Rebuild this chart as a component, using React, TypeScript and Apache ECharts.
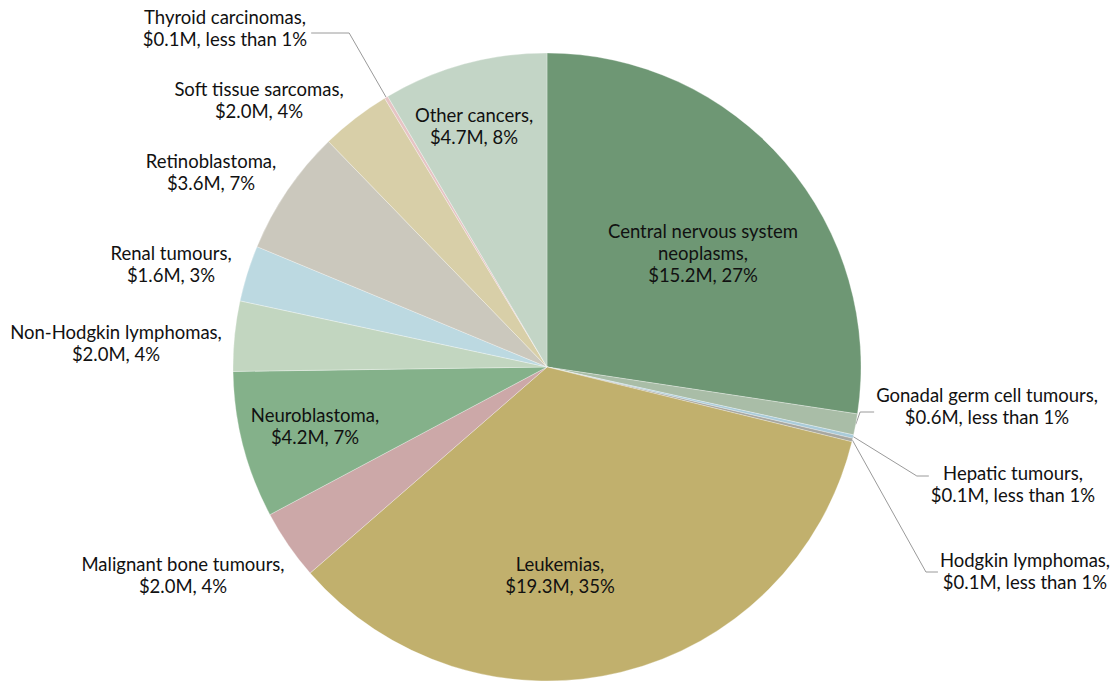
import React, { useEffect, useRef } from "react";
import * as echarts from "echarts";

const categories = [
  "Central nervous system\nneoplasms",
  "Gonadal germ cell tumours",
  "Hepatic tumours",
  "Hodgkin lymphomas",
  "Leukemias",
  "Malignant bone tumours",
  "Neuroblastoma",
  "Non-Hodgkin lymphomas",
  "Renal tumours",
  "Retinoblastoma",
  "Soft tissue sarcomas",
  "Thyroid carcinomas",
  "Other cancers",
];
const valuesM = [15.2, 0.6, 0.1, 0.1, 19.3, 2.0, 4.2, 2.0, 1.6, 3.6, 2.0, 0.1, 4.7];
const shareLabels = ["27%", "less than 1%", "less than 1%", "less than 1%", "35%", "4%", "7%", "4%", "3%", "7%", "4%", "less than 1%", "8%"];
const colors = [
  "#6e9774", "#a9bda7", "#a9cbd9", "#a7a7a0", "#c1b06d", "#cca8a8", "#84b18a",
  "#c2d6c0", "#bcd9e1", "#cbc8bd", "#d8cfa8", "#e6c4c4", "#c3d5c6",
];
const showLeader = [false, true, true, true, false, false, false, false, false, false, false, true, false];

// label anchor positions (layout only)
const labelPos: [number, number][] = [
  [703, 253], [987, 406], [1013, 484], [1025, 571], [560, 575], [183, 575], [315, 426],
  [116, 343], [171, 264], [211, 172], [259, 100], [225, 28], [474, 126],
];
// leader line: side of label, horizontal run length, vertical offset
const leaderSide = ["", "left", "left", "left", "", "", "", "", "", "", "", "right", ""];
const leaderRun = [0, 14, 12, 12, 0, 0, 0, 0, 0, 0, 0, 38, 0];
const leaderDy = [0, 6, -8, 1, 0, 0, 0, 0, 0, 0, 0, 5, 0];

export default function App() {
  const ref = useRef<HTMLDivElement>(null);
  useEffect(() => {
    if (!ref.current) return;
    const chart = echarts.init(ref.current, undefined, { renderer: "svg" });
    const data = categories.map((name, i) => ({
      name,
      value: valuesM[i],
      itemStyle: { color: colors[i] },
      label: {
        formatter: `${name},\n$${valuesM[i].toFixed(1)}M, ${shareLabels[i]}`,
      },
      labelLine: { show: showLeader[i] },
    }));
    chart.setOption({
      animation: false,
      series: [
        {
          type: "pie",
          center: [547, 367],
          radius: [0, 314],
          startAngle: 90,
          clockwise: true,
          avoidLabelOverlap: false,
          data,
          itemStyle: { borderColor: "#ffffff", borderWidth: 0.3 },
          label: {
            show: true,
            position: "outside",
            fontFamily: "Lato, 'Open Sans', sans-serif",
            fontSize: 18.5,
            lineHeight: 22,
            color: "#111111",
            align: "center",
          },
          labelLine: {
            show: true,
            length: 10,
            length2: 12,
            lineStyle: { color: "#9a9a9a", width: 1 },
          },
          labelLayout: (params: any) => {
            const i = params.dataIndex;
            const p = labelPos[i];
            const res: any = { x: p[0], y: p[1], align: "center", verticalAlign: "middle" };
            if (showLeader[i] && params.labelLinePoints && params.labelRect) {
              const edge = params.labelLinePoints[0];
              const w = params.labelRect.width;
              const ly = p[1] + leaderDy[i];
              if (leaderSide[i] === "left") {
                const lx = p[0] - w / 2 - 2;
                res.labelLinePoints = [edge, [lx - leaderRun[i], ly], [lx, ly]];
              } else {
                const rx = p[0] + w / 2 + 4;
                res.labelLinePoints = [edge, [rx + leaderRun[i], ly], [rx, ly]];
              }
            }
            return res;
          },
          emphasis: { disabled: true },
        },
      ],
    });
    return () => chart.dispose();
  }, []);
  return (
    <div
      ref={ref}
      style={{ position: "absolute", left: 0, top: 0, width: 1118, height: 682 }}
    />
  );
}
